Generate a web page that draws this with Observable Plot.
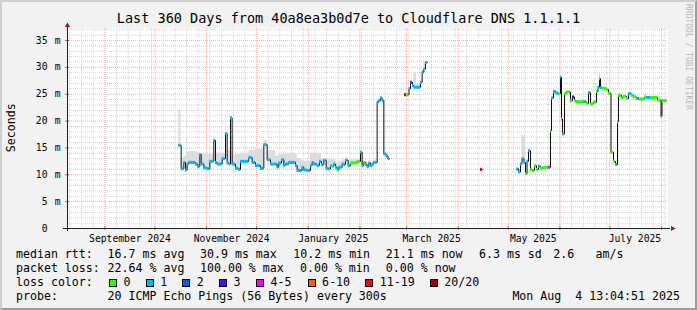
<!DOCTYPE html>
<html>
<head>
<meta charset="utf-8">
<script src="https://cdn.jsdelivr.net/npm/d3@7"></script>
<script src="https://cdn.jsdelivr.net/npm/@observablehq/plot@0.6"></script>
<style>
html, body { margin:0; padding:0; background:#f2f2f2; }
#wrap { position:relative; width:697px; height:310px; background:#f2f2f2; overflow:hidden;
  font-family:"DejaVu Sans Mono", monospace; color:#000; }
#border { position:absolute; left:0; top:0; width:697px; height:310px; box-sizing:border-box;
  border-style:solid; border-width:2px; border-color:#cfcfcf #9e9e9e #9e9e9e #cfcfcf; pointer-events:none; }
.t { position:absolute; white-space:pre; line-height:1; }
.sw { position:absolute; width:6px; height:6px; border:1px solid #000; }
#chart { position:absolute; left:0; top:0; }
</style>
</head>
<body>
<div id="wrap"><div id="chart"></div><div id="border"></div></div>
<script>
// ---- time window ----
const start = new Date(Date.UTC(2024, 7, 9, 13, 4, 51));
const end = new Date(Date.UTC(2025, 7, 4, 13, 4, 51));
const DAY = 864e5;

// ---- loss classes ----
const lossLabels = ["0", "1", "2", "3", "4-5", "6-10", "11-19", "20/20"];
const lossColors = ["#26ff00", "#00b8ff", "#0059ff", "#5e00ff", "#ff00ff", "#ff5a00", "#ff0000", "#a00000"];

// ---- data: [day since window start, median ms, loss class index, smoke top ms] ----
const segA = [
  [66.8, 15.5, 1, 22.0], [68.2, 11.1, 1, 13.0], [69.8, 12.3, 1, 13.5], [70.8, 10.9, 1, 13.5],
  [71.8, 12.0, 1, 14.3], [72.8, 12.3, 1, 14.3], [76.8, 12.0, 1, 14.3], [78.2, 11.5, 1, 14.0],
  [79.4, 13.8, 1, 14.0], [80.2, 12.0, 1, 13.8], [81.8, 11.3, 1, 13.8], [83.8, 11.1, 1, 13.8],
  [85.4, 12.5, 1, 13.8], [87.8, 16.4, 1, 16.7], [88.8, 12.3, 1, 14.0], [89.8, 12.0, 1, 14.0],
  [92.8, 13.0, 1, 14.0], [94.8, 17.7, 1, 17.9], [95.8, 12.2, 1, 14.5], [96.8, 12.0, 1, 14.5],
  [97.8, 20.6, 1, 20.8], [98.8, 12.0, 1, 13.8], [100.8, 11.2, 1, 13.8], [102.8, 11.0, 1, 13.8],
  [103.8, 12.5, 1, 14.0], [108.8, 13.2, 1, 14.5], [110.8, 12.3, 1, 14.5], [112.8, 11.7, 1, 14.8],
  [115.8, 11.2, 1, 14.8], [117.8, 15.6, 1, 16.4], [119.8, 12.8, 1, 14.5], [121.8, 12.0, 1, 14.5],
  [124.8, 12.0, 1, 13.5], [125.8, 11.4, 1, 13.5], [126.8, 12.2, 1, 13.8], [128.4, 12.8, 1, 13.8],
  [129.8, 11.7, 1, 13.8], [130.8, 12.0, 1, 13.8], [132.8, 12.3, 1, 14.0], [136.8, 11.7, 1, 13.8],
  [137.8, 10.8, 1, 13.0], [140.8, 11.4, 1, 12.5], [141.8, 10.9, 1, 12.5], [143.8, 10.8, 1, 12.5],
  [145.8, 11.7, 1, 14.0], [146.8, 12.3, 1, 14.0], [147.8, 12.0, 1, 14.0], [149.8, 11.7, 1, 14.0],
  [151.2, 12.5, 1, 14.0], [152.4, 11.9, 1, 13.0], [153.8, 12.7, 1, 13.0], [155.2, 11.2, 1, 12.8],
  [156.8, 11.1, 1, 12.8], [157.8, 11.7, 1, 12.8], [158.8, 11.6, 0, 12.8], [159.8, 12.0, 1, 12.8],
  [160.8, 11.4, 1, 12.5], [161.8, 10.9, 0, 12.0], [162.8, 11.4, 1, 12.5], [164.8, 12.0, 1, 12.8],
  [165.8, 11.9, 1, 12.8], [166.8, 12.7, 1, 13.2], [168.4, 11.7, 1, 12.8], [169.8, 12.2, 0, 12.8],
  [173.8, 12.5, 0, 12.8], [175.8, 14.2, 1, 14.4], [176.8, 11.7, 1, 12.5], [177.8, 12.3, 0, 12.6],
  [178.8, 11.9, 1, 12.5], [179.8, 11.5, 1, 12.3], [180.8, 12.2, 1, 12.6], [181.8, 11.7, 1, 12.3],
  [182.8, 12.0, 1, 12.5], [183.8, 12.3, 1, 12.8], [185.8, 23.5, 1, 24.0], [186.8, 23.8, 1, 24.2],
  [187.8, 24.3, 1, 24.6], [188.8, 23.8, 1, 24.2], [189.8, 13.9, 1, 14.3], [191.2, 13.5, 1, 14.0],
  [192.3, 13.0, 5, 13.4], [193.2, 13.0, 5, 13.4]
];
const segB = [
  [202.2, 24.9, 6, 25.3], [203.4, 24.9, 0, 25.3], [204.9, 26.0, 1, 26.4], [205.8, 27.2, 2, 27.6],
  [207.0, 26.6, 1, 27.0], [207.9, 26.3, 1, 28.8], [209.4, 26.3, 1, 26.8], [211.8, 27.2, 1, 27.6],
  [212.8, 29.1, 1, 29.5], [213.8, 29.7, 1, 31.1], [214.8, 30.9, 1, 31.1], [216.0, 30.9, 1, 31.1]
];
const segC = [
  [247.8, 11.0, 6, 11.0], [249.0, 11.0, 6, 11.0]
];
const segD = [
  [269.4, 11.1, 1, 11.3], [270.6, 10.5, 1, 10.7], [271.8, 12.0, 1, 12.2], [272.7, 13.0, 1, 17.3],
  [273.9, 12.3, 1, 17.3], [274.8, 10.2, 0, 10.4], [275.7, 12.5, 1, 12.7], [276.6, 14.5, 1, 14.7],
  [277.8, 11.0, 0, 11.2], [279.0, 10.8, 0, 11.0], [280.2, 11.7, 0, 11.9], [281.4, 11.0, 0, 11.2],
  [282.6, 11.6, 1, 11.8], [283.8, 11.2, 0, 11.4], [285.0, 11.3, 0, 11.5], [286.8, 11.4, 0, 11.6],
  [288.6, 11.4, 4, 11.6], [289.8, 18.2, 0, 18.4], [290.4, 24.3, 1, 24.5], [291.6, 25.5, 1, 25.7],
  [293.1, 25.2, 1, 25.4], [294.6, 25.1, 0, 25.3], [295.8, 28.2, 1, 28.4], [296.4, 20.4, 0, 20.6],
  [297.0, 17.6, 1, 17.8], [298.2, 25.1, 0, 25.3], [299.4, 25.4, 0, 25.6], [301.8, 23.8, 0, 24.0],
  [303.0, 24.5, 3, 24.7], [304.2, 23.8, 0, 24.0], [305.4, 23.6, 0, 23.8], [309.6, 23.6, 1, 23.8],
  [311.4, 23.3, 0, 23.5], [312.6, 25.3, 1, 25.5], [313.8, 23.2, 0, 23.4], [315.6, 23.5, 0, 23.7],
  [317.4, 25.5, 0, 25.7], [318.3, 26.3, 1, 26.5], [319.2, 27.9, 1, 29.0], [319.8, 26.2, 1, 26.4],
  [321.0, 26.1, 0, 26.3], [323.4, 25.9, 0, 26.1], [324.6, 25.2, 0, 25.4], [326.1, 14.2, 0, 14.4],
  [327.6, 12.5, 0, 12.7], [328.8, 11.9, 1, 12.1], [330.0, 19.9, 0, 20.1], [330.6, 24.8, 0, 25.0],
  [332.4, 24.3, 0, 24.5], [333.6, 24.6, 0, 24.8], [335.4, 24.2, 0, 24.4], [336.6, 25.1, 1, 25.3],
  [338.4, 24.8, 0, 25.0], [339.6, 24.5, 0, 24.7], [341.4, 24.2, 1, 24.4], [343.2, 24.1, 0, 24.3],
  [346.2, 24.5, 0, 24.7], [347.4, 24.4, 1, 24.6], [349.8, 24.4, 0, 24.6], [352.2, 24.4, 0, 24.6],
  [354.0, 23.9, 0, 24.1], [356.1, 20.9, 1, 21.1], [356.7, 23.8, 0, 24.0], [359.4, 23.8, 0, 24.0]
];

// ---- axes ----
const yMax = 37.24;
const yTicks = [0, 5, 10, 15, 20, 25, 30, 35];
const yUnit = "m";
const xTickDates = ["2024-09-16", "2024-11-16", "2025-01-16", "2025-03-16", "2025-05-16", "2025-07-16"];
const xTickLabels = ["September 2024", "November 2024", "January 2025", "March 2025", "May 2025", "July 2025"];

// ---- legend texts ----
const titleText = "Last 360 Days from 40a8ea3b0d7e to Cloudflare DNS 1.1.1.1";
const rttStats = ["16.7 ms avg", "30.9 ms max", "10.2 ms min", "21.1 ms now", "6.3 ms sd", "2.6", "am/s"];
const lossStats = ["22.64 % avg", "100.00 % max", "0.00 % min", "0.00 % now"];
const probeText = "20 ICMP Echo Pings (56 Bytes) every 300s";
const stampText = "Mon Aug  4 13:04:51 2025";

// ---- build tables ----
const toDate = d => new Date(start.getTime() + d * DAY);
const segments = {A: segA, B: segB, C: segC, D: segD};
const rows = [];
const bars = [];
for (const [name, seg] of Object.entries(segments)) {
  seg.forEach(([d, m, l, s], i) => {
    rows.push({seg: name, date: toDate(d), median: m, smoke: s});
    if (i < seg.length - 1) bars.push({x1: toDate(d), x2: toDate(seg[i + 1][0]), y: m, color: lossColors[l]});
  });
}
const monthLines = d3.utcMonth.range(start, end);
const weekLines = d3.utcSunday.range(start, end);
const yMinor = d3.range(1, 38).filter(v => v % 5 !== 0 && v < yMax);
const yMajor = yTicks.filter(v => v > 0);
const xLabels = xTickDates.map((s, i) => ({date: new Date(s), text: xTickLabels[i]}));

const font = '"DejaVu Sans Mono", monospace';
const chart = Plot.plot({
  width: 697, height: 310,
  marginLeft: 67, marginRight: 30, marginTop: 28, marginBottom: 82,
  style: {background: "transparent", fontFamily: font, fontSize: "9.7px", color: "#000", overflow: "visible"},
  x: {type: "utc", domain: [start, end], axis: null},
  y: {domain: [0, yMax], axis: null},
  color: {type: "identity"},
  marks: [
    Plot.frame({fill: "#ffffff", stroke: "none"}),
    Plot.ruleY(yMinor, {stroke: "#d2d2d2", strokeDasharray: "1,1"}),
    Plot.ruleX(weekLines, {stroke: "#d2d2d2", strokeDasharray: "1,1"}),
    Plot.ruleY(yMajor, {stroke: "#eeb0b0", strokeDasharray: "1,1"}),
    Plot.ruleX(monthLines, {stroke: "#eeb0b0", strokeDasharray: "1,1"}),
    Plot.areaY(rows, {x: "date", y1: "median", y2: "smoke", z: "seg", curve: "step-after", fill: "#dcdcdc"}),
    Plot.line(rows, {x: "date", y: "median", z: "seg", curve: "step-after", stroke: "#111", strokeWidth: 1}),
    Plot.ruleY(bars, {x1: "x1", x2: "x2", y: "y", stroke: "color", strokeWidth: 3}),
    // axis ticks
    Plot.ruleX(monthLines, {y1: 0, y2: 0, insetTop: -2, insetBottom: -2, stroke: "#d06060"}),
    Plot.ruleY(yMajor, {x1: start, x2: start, insetLeft: -2, insetRight: -2, stroke: "#d06060"}),
    // axis lines
    Plot.ruleY([0], {stroke: "#1f1f1f", insetLeft: -4, insetRight: -3}),
    Plot.ruleX([start], {stroke: "#1f1f1f", insetTop: -2, insetBottom: -3}),
    Plot.dot([{x: end, y: 0}], {x: "x", y: "y", symbol: "triangle2", rotate: 90, r: 2.5, fill: "#801f1f", stroke: "none", dx: 5}),
    Plot.dot([{x: start, y: yMax}], {x: "x", y: "y", symbol: "triangle2", r: 2.5, fill: "#801f1f", stroke: "none", dy: -3}),
    // tick labels
    Plot.text(xLabels, {x: "date", text: "text", frameAnchor: "bottom", dy: 10, lineAnchor: "middle", fontSize: 9.7, fill: "#000"}),
    Plot.text(yTicks, {y: d => d, text: d => String(d), frameAnchor: "left", dx: -20, textAnchor: "end", lineAnchor: "middle", fontSize: 9.7, fill: "#000"}),
    Plot.text(yMajor, {y: d => d, text: () => yUnit, frameAnchor: "left", dx: -7, textAnchor: "end", lineAnchor: "middle", fontSize: 9.7, fill: "#000"})
  ]
});
document.getElementById("chart").appendChild(chart);

// ---- HTML texts ----
const wrap = document.getElementById("wrap");
function addText(x, yc, str, size, opts = {}) {
  const el = document.createElement("div");
  el.className = "t";
  el.textContent = str;
  el.style.left = x + "px";
  el.style.top = (yc - size * 0.5) + "px";
  el.style.fontSize = size + "px";
  Object.assign(el.style, opts);
  wrap.appendChild(el);
  return el;
}
addText(348.5, 19, titleText, 13.5, {transform: "translateX(-50%)"});
addText(12, 128, "Seconds", 11.6, {transform: "translate(-50%, 0) rotate(-90deg)", transformOrigin: "50% 50%"});
addText(684, 4, "RRDTOOL / TOBI OETIKER", 8, {writingMode: "vertical-rl", color: "#b9b9b9", top: "4px"});

const LS = 11.6;
const rowY = [255, 269, 283, 297];
addText(16, rowY[0], "median rtt:", LS);
[107.6, 200, 293.3, 385.8, 479, 553.3, 595.6].forEach((x, i) => addText(x, rowY[0], rttStats[i], LS));
addText(16, rowY[1], "packet loss:", LS);
[107.6, 200, 300, 385.8].forEach((x, i) => addText(x, rowY[1], lossStats[i], LS));
addText(16, rowY[2], "loss color:", LS);
const swX = [109, 145.8, 182.2, 219, 256, 307.6, 365.3, 429.8];
lossLabels.forEach((lab, i) => {
  const sw = document.createElement("div");
  sw.className = "sw";
  sw.style.left = swX[i] + "px";
  sw.style.top = (rowY[2] - 4) + "px";
  sw.style.background = lossColors[i];
  wrap.appendChild(sw);
  addText(swX[i] + 14.5, rowY[2], lab, LS);
});
addText(16, rowY[3], "probe:", LS);
addText(107.6, rowY[3], probeText, LS);
addText(512.4, rowY[3], stampText, LS);
</script>
</body>
</html>
